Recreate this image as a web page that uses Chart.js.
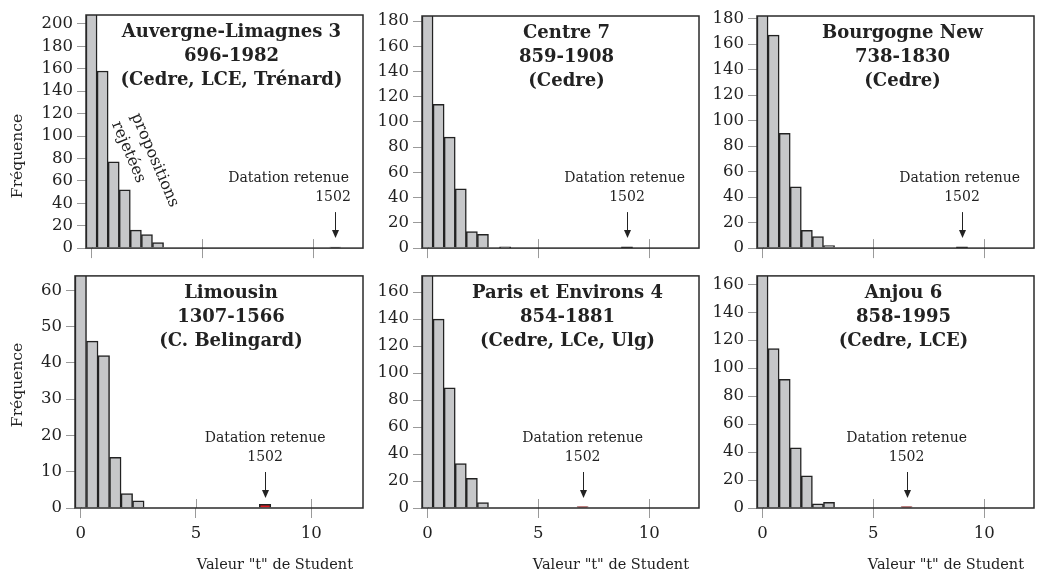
<!DOCTYPE html>
<html><head><meta charset="utf-8">
<script src="https://cdn.jsdelivr.net/npm/chart.js@4.4.1/dist/chart.umd.min.js"></script>
<style>
html,body{margin:0;padding:0;background:#fff;}
#wrap{position:relative;width:1037px;height:578px;overflow:hidden;background:#fff;}
#wrap canvas{position:absolute;}
</style></head><body><div id="wrap"></div>
<script>
// ---------- data ----------
const binCenters = [0, 0.5, 1, 1.5, 2, 2.5, 3, 3.5];
const xTickValues = [0, 5, 10];
const retainedYear = '1502';
const retainedLabel = 'Datation retenue';
const xAxisTitle = 'Valeur "t" de Student';
const yAxisTitle = 'Fréquence';
const rejectedLines = ['propositions', 'rejetées'];

const auvergneCounts  = [230, 158, 77, 52, 16, 12, 5];
const centreCounts    = [200, 114, 88, 47, 13, 11, 0, 1];
const bourgogneCounts = [200, 167, 90, 48, 14, 9, 2];
const limousinCounts  = [75, 46, 42, 14, 4, 2];
const parisCounts     = [190, 140, 89, 33, 22, 4];
const anjouCounts     = [180, 114, 92, 43, 23, 3, 4];
const panelCounts = [auvergneCounts, centreCounts, bourgogneCounts, limousinCounts, parisCounts, anjouCounts];

const retainedT     = [11, 9, 9, 8, 7, 6.5];
const retainedCount = [1, 1, 1, 1, 1, 1];

const panelTitles = [
  ['Auvergne-Limagnes 3', '696-1982', '(Cedre, LCE, Trénard)'],
  ['Centre 7', '859-1908', '(Cedre)'],
  ['Bourgogne New', '738-1830', '(Cedre)'],
  ['Limousin', '1307-1566', '(C. Belingard)'],
  ['Paris et Environs 4', '854-1881', '(Cedre, LCe, Ulg)'],
  ['Anjou 6', '858-1995', '(Cedre, LCE)']
];
const yMaxValues = [208, 184, 182, 64, 172, 166];
const yTicksTop1  = [0, 20, 40, 60, 80, 100, 120, 140, 160, 180, 200];
const yTicksTop2  = [0, 20, 40, 60, 80, 100, 120, 140, 160, 180];
const yTicksTop3  = [0, 20, 40, 60, 80, 100, 120, 140, 160, 180];
const yTicksBot1  = [0, 10, 20, 30, 40, 50, 60];
const yTicksBot2  = [0, 20, 40, 60, 80, 100, 120, 140, 160];
const yTicksBot3  = [0, 20, 40, 60, 80, 100, 120, 140, 160];
const panelYTicks = [yTicksTop1, yTicksTop2, yTicksTop3, yTicksBot1, yTicksBot2, yTicksBot3];

// ---------- layout (positions / styles) ----------
const layout = [
  {cl: 0,   ct: 0,   cw: 368, ch: 262, L: 86,  T: 15,  R: 363,  B: 249, dx: 7,  bottomRow: false},
  {cl: 370, ct: 0,   cw: 334, ch: 262, L: 422, T: 16,  R: 699,  B: 249, dx: 6,  bottomRow: false},
  {cl: 705, ct: 0,   cw: 332, ch: 262, L: 757, T: 16,  R: 1034, B: 249, dx: 7,  bottomRow: false},
  {cl: 0,   ct: 262, cw: 368, ch: 316, L: 75,  T: 275, R: 363,  B: 508, dx: 12, bottomRow: true},
  {cl: 370, ct: 262, cw: 334, ch: 316, L: 422, T: 275, R: 699,  B: 508, dx: 7,  bottomRow: true},
  {cl: 705, ct: 262, cw: 332, ch: 316, L: 757, T: 275, R: 1034, B: 508, dx: 8,  bottomRow: true}
];
const outlierStyles = [
  {bg: '#333', border: '#222'},
  {bg: '#333', border: '#222'},
  {bg: '#333', border: '#222'},
  {bg: '#e01820', border: '#222'},
  {bg: '#c02a2a', border: '#8a4545'},
  {bg: '#c02a2a', border: '#8a4545'}
];
const yTitleCenters = [156, 385];

const SERIF = '"DejaVu Serif", serif';
Chart.defaults.font.family = SERIF;
Chart.defaults.color = '#222';

function decorPlugin(i) {
  const lay = layout[i];
  return {
    id: 'decor' + i,
    beforeDatasetsDraw(chart) {
      const {ctx, chartArea: a, scales: {x}} = chart;
      ctx.save();
      ctx.strokeStyle = '#9a9a9a';
      ctx.lineWidth = 1;
      xTickValues.forEach(v => {
        const px = Math.round(x.getPixelForValue(v)) + 0.5;
        ctx.beginPath(); ctx.moveTo(px, a.bottom - 9); ctx.lineTo(px, a.bottom); ctx.stroke();
      });
      ctx.restore();
    },
    afterDatasetsDraw(chart) {
      const {ctx, chartArea: a, scales: {x}} = chart;
      ctx.save();
      // frame
      ctx.strokeStyle = '#2a2a2a';
      ctx.lineWidth = 1.5;
      ctx.strokeRect(a.left, a.top, a.right - a.left, a.bottom - a.top);
      ctx.fillStyle = '#222';
      // panel title
      ctx.font = 'bold 18px ' + SERIF;
      ctx.textAlign = 'center';
      ctx.textBaseline = 'middle';
      const cx = (a.left + a.right) / 2 + lay.dx;
      panelTitles[i].forEach((t, k) => ctx.fillText(t, cx, a.top + 17.5 + k * 24));
      // retained annotation
      const px = x.getPixelForValue(retainedT[i]);
      ctx.font = '14px ' + SERIF;
      const w = ctx.measureText(retainedLabel).width;
      const lx = Math.min(px, a.right - 14 - w / 2);
      ctx.fillText(retainedLabel, lx, a.bottom - 70);
      ctx.fillText(retainedYear, Math.min(px, a.right - 14 - 16), a.bottom - 51);
      ctx.strokeStyle = '#222';
      ctx.lineWidth = 1;
      const ax = Math.round(px) + 0.5;
      ctx.beginPath(); ctx.moveTo(ax, a.bottom - 36); ctx.lineTo(ax, a.bottom - 16); ctx.stroke();
      ctx.beginPath(); ctx.moveTo(ax - 3.5, a.bottom - 18); ctx.lineTo(ax + 3.5, a.bottom - 18); ctx.lineTo(ax, a.bottom - 10); ctx.closePath(); ctx.fill();
      // y-axis title
      if (i === 0 || i === 3) {
        ctx.font = '15.5px ' + SERIF;
        ctx.save();
        ctx.translate(18, yTitleCenters[i === 0 ? 0 : 1] - lay.ct);
        ctx.rotate(-Math.PI / 2);
        ctx.fillText(yAxisTitle, 0, 0);
        ctx.restore();
      }
      // x-axis title
      if (lay.bottomRow) {
        ctx.font = '14.5px ' + SERIF;
        ctx.textAlign = 'right';
        ctx.fillText(xAxisTitle, a.right - 10, 565 - lay.ct);
      }
      // rotated note
      if (i === 0) {
        ctx.font = '16px ' + SERIF;
        ctx.textAlign = 'left';
        const ang = 67 * Math.PI / 180;
        ctx.save();
        ctx.translate(135, 114);
        ctx.rotate(ang);
        ctx.fillText(rejectedLines[0], 0, 0);
        ctx.fillText(rejectedLines[1], 0, 21);
        ctx.restore();
      }
      ctx.restore();
    }
  };
}

const wrap = document.getElementById('wrap');
layout.forEach((lay, i) => {
  const cv = document.createElement('canvas');
  cv.width = lay.cw; cv.height = lay.ch;
  cv.style.left = lay.cl + 'px'; cv.style.top = lay.ct + 'px';
  cv.style.width = lay.cw + 'px'; cv.style.height = lay.ch + 'px';
  wrap.appendChild(cv);
  const counts = panelCounts[i];
  const mainData = counts.map((c, k) => ({x: binCenters[k], y: c}));
  const yT = panelYTicks[i];
  new Chart(cv, {
    type: 'bar',
    data: {
      datasets: [
        {data: mainData, backgroundColor: '#c6c7c9', borderColor: '#222', borderWidth: 1.5,
         barPercentage: 1, categoryPercentage: 1, grouped: false},
        {data: [{x: retainedT[i], y: retainedCount[i]}], backgroundColor: outlierStyles[i].bg,
         borderColor: outlierStyles[i].border, borderWidth: 1.5,
         barPercentage: 1, categoryPercentage: 1, grouped: false}
      ]
    },
    options: {
      responsive: false,
      animation: false,
      events: [],
      layout: {padding: {left: 0, top: lay.T - lay.ct, right: lay.cl + lay.cw - lay.R, bottom: 0}},
      plugins: {legend: {display: false}, tooltip: {enabled: false}},
      scales: {
        x: {
          type: 'linear', min: -0.25, max: 12.25, offset: false,
          afterBuildTicks: s => { s.ticks = xTickValues.map(v => ({value: v})); },
          afterFit: s => { s.height = lay.ct + lay.ch - lay.B; },
          border: {display: false},
          grid: {display: true, drawOnChartArea: false, drawTicks: true, tickLength: 10, color: '#9a9a9a', offset: false},
          ticks: {display: lay.bottomRow, padding: 6, font: {size: 16.5, family: SERIF}, color: '#222', maxRotation: 0}
        },
        y: {
          type: 'linear', min: 0, max: yMaxValues[i],
          afterBuildTicks: s => { s.ticks = yT.map(v => ({value: v})); },
          afterFit: s => { s.width = lay.L - lay.cl; },
          border: {display: false},
          grid: {display: true, drawOnChartArea: false, drawTicks: true, tickLength: 9, color: '#9a9a9a'},
          ticks: {padding: 4, font: {size: 16.5, family: SERIF}, color: '#222'}
        }
      }
    },
    plugins: [decorPlugin(i)]
  });
});
</script>
</body></html>
